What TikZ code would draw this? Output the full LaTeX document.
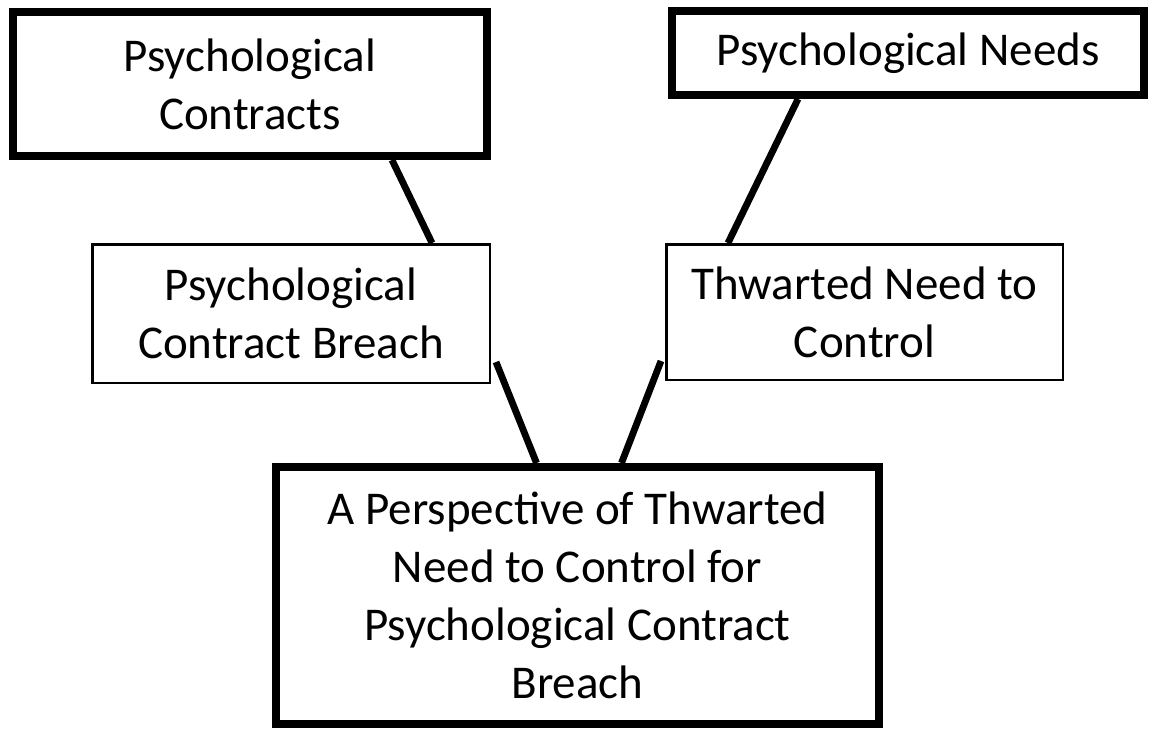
\documentclass[tikz,border=0pt]{standalone}
\usepackage{fontspec}
\setmainfont{Carlito}
\usetikzlibrary{calc,backgrounds}

\tikzset{
  box/.style={draw=black, fill=white, align=center, inner sep=0pt,
    font=\fontsize{47}{58}\selectfont},
  heavybox/.style={box, line width=8pt},
  lightbox/.style={box, line width=2.5pt},
  link/.style={draw=black, line width=6.8pt}
}

\begin{document}
\begin{tikzpicture}[x=1pt, y=-1pt]
  \useasboundingbox (0,0) rectangle (1153,728);

  % boxes (centres in image coordinates, y grows downward)
  \node[heavybox, minimum width=474pt, minimum height=144pt] (pc) at (250,84)
    {Psychological\\Contracts};
  \node[heavybox, minimum width=472pt, minimum height=84pt] (pn) at (908,53)
    {Psychological Needs};
  \node[lightbox, minimum width=397.5pt, minimum height=138.5pt] (pcb) at (291,313.5)
    {Psychological\\Contract Breach};
  \node[lightbox, minimum width=396.5pt, minimum height=135.5pt] (tnc) at (864.5,312)
    {Thwarted Need to\\Control};
  \node[heavybox, minimum width=603pt, minimum height=257pt] (core) at (577.5,595.5)
    {A Perspective of Thwarted\\Need to Control for\\Psychological Contract\\Breach};

  % connectors, kept behind the boxes
  \begin{scope}[on background layer]
    \draw[link] ($(pc.south)+(142,0)$) -- ($(pcb.north)+(141,0)$);
    \draw[link] ($(pn.south)+(-110,0)$) -- ($(tnc.north)+(-136.5,0)$);
    \draw[link] ($(pcb.south east)+(5,-22)$) -- ($(core.north)+(-41,0)$);
    \draw[link] ($(tnc.south west)+(-4,-20)$) -- ($(core.north)+(44,0)$);
  \end{scope}
\end{tikzpicture}
\end{document}
